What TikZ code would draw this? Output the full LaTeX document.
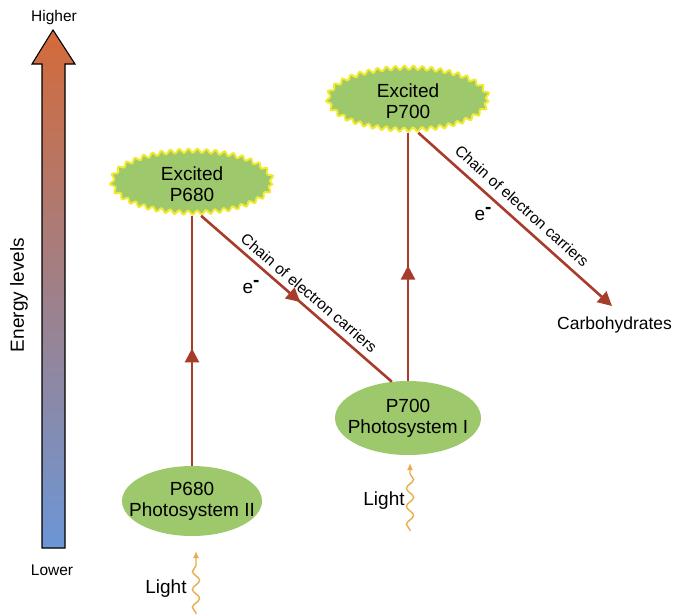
\documentclass[tikz,border=0pt]{standalone}
\usepackage{fontspec}
\setmainfont{Liberation Sans}
\usetikzlibrary{shapes.geometric,decorations.pathmorphing,decorations.markings,arrows.meta}
\definecolor{leaf}{RGB}{158,200,108}
\definecolor{glow}{RGB}{242,234,48}
\definecolor{flow}{RGB}{168,60,42}
\definecolor{sun}{RGB}{232,172,72}
\definecolor{hot}{RGB}{212,106,58}
\definecolor{cold}{RGB}{108,150,214}
\tikzset{
  excited/.style={shape=ellipse, fill=leaf, draw=glow, line width=2pt,
    minimum width=160pt, minimum height=62pt, align=center, inner sep=0pt,
    decorate, decoration={snake, amplitude=2pt, segment length=9pt},
    font=\fontsize{19}{21}\selectfont},
  ground/.style={shape=ellipse, fill=leaf, align=center, inner xsep=-20pt, inner ysep=-8pt,
    font=\fontsize{19}{21}\selectfont},
  flowline/.style={draw=flow, line width=2.6pt},
  midarrow/.style={postaction={decorate, decoration={markings,
    mark=at position #1 with {\arrow[flow]{Triangle[width=14pt,length=14pt]}}}}},
  endarrow/.style={-{Triangle[width=14pt,length=14pt]}},
  light/.style={draw=sun, line width=1.4pt, -{Latex[length=7pt,width=6pt]},
    decorate, decoration={snake, amplitude=3.6pt, segment length=18pt, pre length=1pt, post length=9pt}},
  lbl/.style={font=\fontsize{19}{21}\selectfont},
  small/.style={font=\fontsize{15.5}{17}\selectfont},
}
\begin{document}
\begin{tikzpicture}[x=1pt,y=-1pt]
\useasboundingbox (0,0) rectangle (688,614);
% energy arrow
\shade[top color=hot, bottom color=cold]
  (42,548) -- (65,548) -- (65,64) -- (75,64) -- (53,30) -- (32,64) -- (42,64) -- cycle;
\draw[line width=1.1pt, line join=miter]
  (42,548) -- (65,548) -- (65,64) -- (75,64) -- (53,30) -- (32,64) -- (42,64) -- cycle;
\node[lbl, font=\fontsize{15.5}{17}\selectfont] (higher) at (54,17) {Higher};
\node[lbl, font=\fontsize{15.5}{17}\selectfont] (lower) at (52,570) {Lower};
\node[lbl, rotate=90] (energy) at (19,295) {Energy levels};

% nodes
\node[excited] (ex680) at (192,184) {Excited\\P680};
\node[excited] (ex700) at (408,101) {Excited\\P700};
\node[ground, minimum width=140pt, minimum height=70pt] (ps2) at (192,501) {P680\\Photosystem II};
\node[ground, minimum width=146pt, minimum height=74pt] (ps1) at (408,418) {P700\\Photosystem I};
\node[lbl, anchor=north west, inner sep=0pt, font=\fontsize{17.5}{19}\selectfont] (carb) at (557,317) {Carbohydrates};

% connectors
\draw[flowline, midarrow=0.47] (ps2.north) -- (ps2.north |- ex680.south);
\draw[flowline, midarrow=0.52] (ex680.-74) -- (ps1.114);
\draw[flowline, midarrow=0.465] (ps1.north) -- (ps1.north |- ex700.south);
\coordinate (carbtip) at (612,306);
\draw[flowline, endarrow] (ex700.-72) -- (carbtip);

% labels on chains
\node[small, rotate=-40.5] (chain1) at (309,293) {Chain of electron carriers};
\node[small, rotate=-41.8] (chain2) at (522,206) {Chain of electron carriers};
\node[lbl] (e1) at (251,287) {e\raisebox{7pt}{\textbf{-}}};
\node[lbl] (e2) at (483,214) {e\raisebox{7pt}{\textbf{-}}};

% light
\coordinate (l2start) at (196,614);
\coordinate (l2tip) at (196,551);
\draw[light] (l2start) -- (l2tip);
\node[lbl] (light2) at (166,589) {Light};
\coordinate (l1start) at (410,531);
\coordinate (l1tip) at (410,463);
\draw[light] (l1start) -- (l1tip);
\node[lbl] (light1) at (384,501) {Light};
\end{tikzpicture}
\end{document}
